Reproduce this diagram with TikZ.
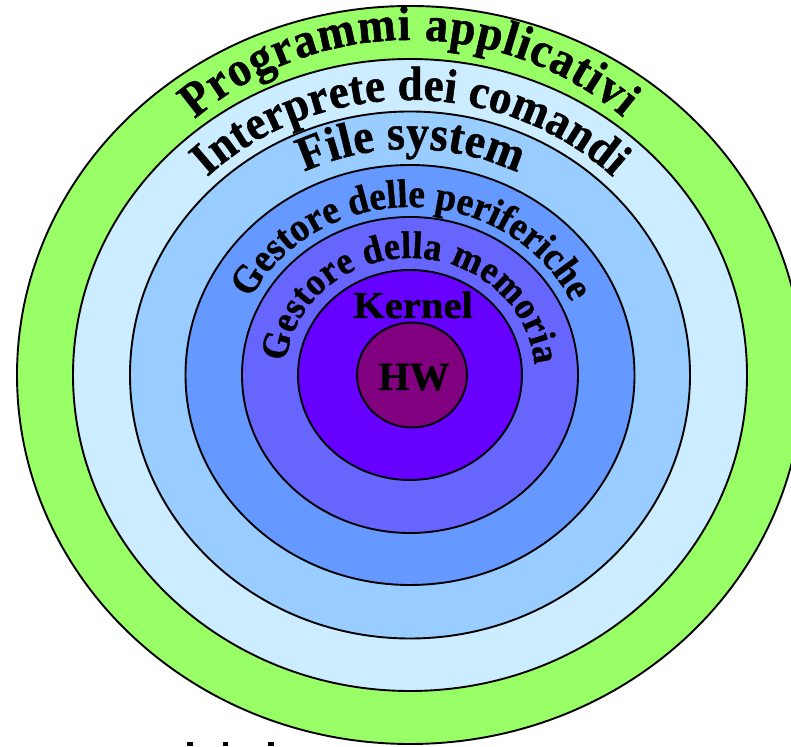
\documentclass[tikz,border=0pt]{standalone}
\usepackage{fontspec}
\setmainfont{Liberation Serif}[BoldFeatures={FakeBold=1}]
% slightly narrowed bold face for the curved layer names
\newfontfamily\archfont{Liberation Serif Bold}[FakeStretch=0.93, FakeBold=1]
\usetikzlibrary{decorations.text}

\definecolor{appgreen}{HTML}{99FF66}
\definecolor{shellblue}{HTML}{CCECFF}
\definecolor{fsblue}{HTML}{99CCFF}
\definecolor{ioblue}{HTML}{6699FF}
\definecolor{memviolet}{HTML}{6666FF}
\definecolor{kernelviolet}{HTML}{6600FF}
\definecolor{hwpurple}{HTML}{800080}

% font sizes of the layer labels
\newcommand\fontProg{\archfont\fontsize{49}{49}\selectfont}
\newcommand\fontShell{\archfont\fontsize{48}{48}\selectfont}
\newcommand\fontFS{\archfont\fontsize{49}{49}\selectfont}
\newcommand\fontIO{\archfont\fontsize{40}{40}\selectfont}
\newcommand\fontMem{\archfont\fontsize{38.5}{38.5}\selectfont}

\begin{document}
\begin{tikzpicture}[x=1pt,y=1pt,
  ring/.style={draw=black,line width=1.9pt,fill=#1},
  arctext/.style={decorate,decoration={text along path,text align=fit to path,text={#1}}}]
\useasboundingbox (0,0) rectangle (791,746);
\clip (0,0) rectangle (791,746);
\fill[white] (0,0) rectangle (791,746);

\coordinate (c) at (410,371);
\coordinate (arch) at (410,383);

% concentric layers, outermost first
\draw[ring=appgreen]     (c) ellipse [x radius=393pt, y radius=369pt];
\draw[ring=shellblue]    (c) ellipse [x radius=337pt, y radius=316pt];
\draw[ring=fsblue]       (c) ellipse [x radius=280pt, y radius=263.5pt];
\draw[ring=ioblue]       (c) ellipse [x radius=224.5pt, y radius=210pt];
\draw[ring=memviolet]    (c) ellipse [x radius=168pt, y radius=158pt];
\draw[ring=kernelviolet] (c) ellipse [x radius=112pt, y radius=105pt];
\draw[ring=hwpurple]     (412,371) ellipse [x radius=55pt, y radius=52.5pt];

% curved labels
\path[arctext={|\fontProg|Programmi applicativi}]
  (arch) ++(131:328pt and 323pt)
  arc[start angle=131, end angle=49.5, x radius=328pt, y radius=323pt];
\path[arctext={|\fontShell|Interprete dei comandi}]
  (c) ++(134:292pt and 275pt)
  arc[start angle=134, end angle=46, x radius=292pt, y radius=275pt];
\path[arctext={|\fontFS|File system}]
  (c) ++(116:241pt and 226pt)
  arc[start angle=116, end angle=63.5, x radius=241pt, y radius=226pt];
\path[arctext={|\fontIO|Gestore delle periferiche}]
  (c) ++(153:179pt and 168pt)
  arc[start angle=153, end angle=27, x radius=179pt, y radius=168pt];
\path[arctext={|\fontMem|Gestore della memoria}]
  (c) ++(173.6:125pt and 117pt)
  arc[start angle=173.6, end angle=5, x radius=125pt, y radius=117pt];

% straight labels
\node[anchor=base, inner sep=0pt, xscale=1.07, transform shape,
      font=\fontsize{38}{38}\selectfont\bfseries] (kernel) at (413,428) {Kernel};
\node[anchor=base, inner sep=0pt, font=\fontsize{40}{40}\selectfont\bfseries] (hw) at (414,356) {HW};

% tops of letters at the lower edge
\fill[black] (187,0) rectangle (193,4.5);
\fill[black] (223,0) rectangle (228,4.5);
\fill[black] (268,0) rectangle (274,4.5);
\end{tikzpicture}
\end{document}
